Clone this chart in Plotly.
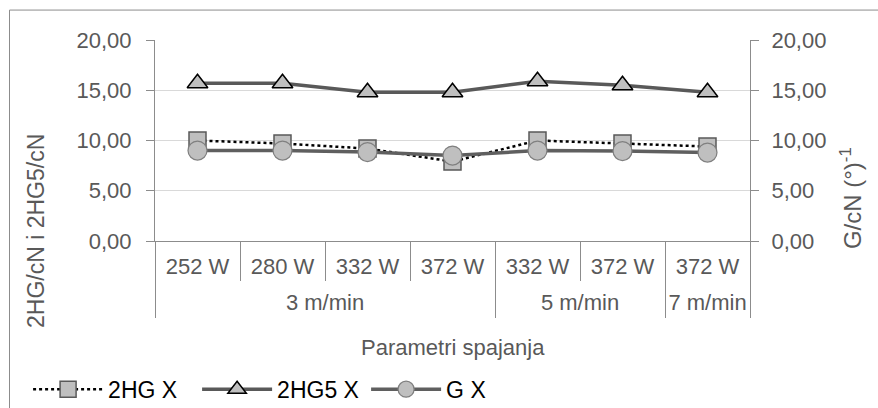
import plotly.graph_objects as go

speeds = ["3 m/min", "5 m/min", "7 m/min"]
speed_counts = [4, 2, 1]
powers = ["252 W", "280 W", "332 W", "372 W", "332 W", "372 W", "372 W"]

hg_2 = [10.0, 9.7, 9.2, 7.9, 10.0, 9.7, 9.4]
hg5_2 = [15.7, 15.7, 14.8, 14.8, 15.9, 15.5, 14.8]
g_x = [9.0, 9.0, 8.85, 8.5, 9.0, 8.95, 8.8]

y_ticks = [0, 5, 10, 15, 20]

FONT = "Liberation Sans, Arial, sans-serif"
GRAY_TXT = "#595959"
AXIS = "#8c8c8c"

# category positions derived from the data
pos = list(range(len(powers)))
bounds = [p - 0.5 for p in pos] + [pos[-1] + 0.5]
group_centers, group_edges = [], [-0.5]
start = 0
for c in speed_counts:
    group_centers.append(start + (c - 1) / 2)
    start += c
    group_edges.append(start - 0.5)
xr = [-0.5, len(powers) - 0.5]

fig = go.Figure()
fig.add_trace(go.Scatter(
    x=pos, y=hg_2, name="2HG X", mode="lines+markers",
    line=dict(color="#000000", width=2.5, dash="dot"),
    marker=dict(symbol="square", size=17, color="#bfbfbf",
                line=dict(color="#595959", width=1.5)),
    yaxis="y"))
fig.add_trace(go.Scatter(
    x=pos, y=hg5_2, name="2HG5 X", mode="lines+markers",
    line=dict(color="#595959", width=3.5),
    marker=dict(symbol="triangle-up", size=18, color="#bfbfbf",
                line=dict(color="#000000", width=1.5)),
    yaxis="y"))
fig.add_trace(go.Scatter(
    x=pos, y=g_x, name="G X", mode="lines+markers",
    line=dict(color="#5f5f5f", width=3.5),
    marker=dict(symbol="circle", size=19, color="#bfbfbf",
                line=dict(color="#7f7f7f", width=1.2)),
    yaxis="y2"))
# helper axes for group labels and dividers
fig.add_trace(go.Scatter(x=[], y=[], xaxis="x2", yaxis="y", showlegend=False, hoverinfo="skip"))
fig.add_trace(go.Scatter(x=[], y=[], xaxis="x3", yaxis="y", showlegend=False, hoverinfo="skip"))

L, R, T, B = 155, 128, 39.5, 167
W, H = 878, 408
pw = W - L - R
ph = H - T - B

fig.update_layout(
    width=W, height=H,
    margin=dict(l=L, r=R, t=T, b=B, autoexpand=False),
    paper_bgcolor="white", plot_bgcolor="white",
    separators=",.",
    font=dict(family=FONT, size=21, color=GRAY_TXT),
    showlegend=True,
    legend=dict(orientation="h", xref="container", yref="container",
                x=0.032, y=0.046, xanchor="left", yanchor="middle",
                font=dict(family=FONT, size=23, color="#000000"),
                itemwidth=70, entrywidth=84, tracegroupgap=0,
                bgcolor="rgba(0,0,0,0)"),
    xaxis=dict(range=xr, tickmode="array", tickvals=pos, ticktext=powers,
               showline=True, linecolor=AXIS, linewidth=1, ticks="",
               showgrid=False, zeroline=False, ticklabelstandoff=6,
               minor=dict(tickmode="array", tickvals=bounds, ticks="outside",
                          ticklen=39, tickcolor=AXIS, showgrid=False),
               tickfont=dict(family=FONT, size=22, color=GRAY_TXT)),
    xaxis2=dict(range=xr, overlaying="x", side="bottom", anchor="y",
                tickmode="array", tickvals=group_centers, ticktext=speeds,
                ticks="", showline=False, showgrid=False, zeroline=False,
                ticklabelstandoff=46,
                tickfont=dict(family=FONT, size=22, color=GRAY_TXT)),
    xaxis3=dict(range=xr, overlaying="x", side="bottom", anchor="y",
                tickmode="array", tickvals=group_edges, showticklabels=False,
                ticks="outside", ticklen=76, tickcolor=AXIS,
                showline=False, showgrid=False, zeroline=False),
    yaxis=dict(range=[0, 20], tickvals=y_ticks, tickformat=".2f",
               showline=True, linecolor=AXIS, linewidth=1,
               ticks="outside", ticklen=8, tickcolor=AXIS,
               gridcolor="#d9d9d9", gridwidth=1, zeroline=False,
               ticklabelstandoff=10,
               tickfont=dict(family=FONT, size=22, color=GRAY_TXT)),
    yaxis2=dict(range=[0, 20], tickvals=y_ticks, tickformat=".2f", overlaying="y",
                side="right", showline=True, linecolor=AXIS, linewidth=1,
                ticks="outside", ticklen=8, tickcolor=AXIS,
                showgrid=False, zeroline=False, ticklabelstandoff=8,
                tickfont=dict(family=FONT, size=22, color=GRAY_TXT)),
)

def px_x(v):
    return (v - L) / pw

def px_y(v):
    return (H - B - v) / ph

# Axis titles
fig.add_annotation(text="2HG/cN i 2HG5/cN", xref="paper", yref="paper",
                   x=px_x(36), y=px_y(231), textangle=-90, showarrow=False,
                   font=dict(family=FONT, size=23, color=GRAY_TXT),
                   xanchor="center", yanchor="middle")
fig.add_annotation(text="G/cN (°)<sup>-1</sup>", xref="paper", yref="paper",
                   x=px_x(851), y=px_y(198), textangle=-90, showarrow=False,
                   font=dict(family=FONT, size=24, color=GRAY_TXT),
                   xanchor="center", yanchor="middle")
fig.add_annotation(text="Parametri spajanja", xref="paper", yref="paper",
                   x=0.5, y=px_y(348), showarrow=False,
                   font=dict(family=FONT, size=22, color=GRAY_TXT),
                   xanchor="center", yanchor="middle")

# Outer chart border
fig.add_shape(type="rect", xref="paper", yref="paper",
              x0=px_x(9.5), x1=px_x(890), y0=px_y(9.5), y1=px_y(420),
              line=dict(color="#8c8c8c", width=1), fillcolor="rgba(0,0,0,0)",
              layer="below")

fig.write_html("out.html", config={"displayModeBar": False},
               post_script="document.body.style.margin='0';document.body.style.overflow='hidden';")
